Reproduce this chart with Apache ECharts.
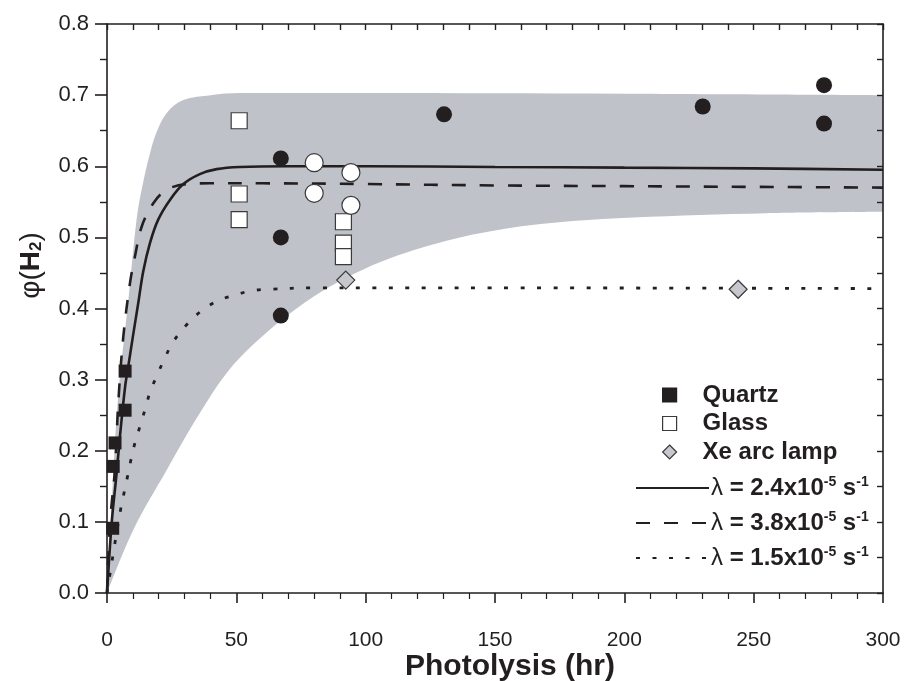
<!DOCTYPE html>
<html><head><meta charset="utf-8">
<script src="https://cdn.jsdelivr.net/npm/echarts@6/dist/echarts.min.js"></script>
<style>html,body{margin:0;padding:0;background:#fff}#c{width:904px;height:681px}</style>
</head><body><div id="c"></div>
<script>
// ---- data ----
const xTickLabels = [0, 50, 100, 150, 200, 250, 300];
const yTickLabels = ['0.0','0.1','0.2','0.3','0.4','0.5','0.6','0.7','0.8'];

const quartzX = [2.2, 2.4, 3.1, 7.0, 7.0];
const quartzY = [0.091, 0.178, 0.211, 0.257, 0.312];

const glassX = [51.1, 51.1, 51.1, 91.4, 91.4, 91.4];
const glassY = [0.664, 0.561, 0.525, 0.522, 0.492, 0.473];

const xeX = [92.3, 244.0];
const xeY = [0.440, 0.427];

const filledCircX = [67.2, 67.2, 67.2, 130.3, 230.3, 277.2, 277.2];
const filledCircY = [0.611, 0.500, 0.390, 0.673, 0.684, 0.714, 0.660];

const openCircX = [80.1, 80.1, 94.3, 94.3];
const openCircY = [0.605, 0.562, 0.591, 0.545];

const fit24X = [0, 1.8, 3.7, 5.0, 7.0, 8.2, 10.2, 12.1, 14.0, 16.6, 19.8, 24.4, 29.5, 35.9, 42.4, 51.4, 70, 100, 150, 200, 250, 300];
const fit24Y = [0, 0.098, 0.168, 0.220, 0.290, 0.318, 0.365, 0.408, 0.452, 0.492, 0.525, 0.553, 0.575, 0.589, 0.596, 0.599, 0.600, 0.600, 0.599, 0.598, 0.597, 0.595];

const fit38X = [0, 1.2, 3.1, 4.4, 6.3, 8.9, 10.8, 13.4, 17.9, 23.1, 30.8, 39.8, 60, 100, 150, 200, 250, 300];
const fit38Y = [0, 0.100, 0.175, 0.270, 0.360, 0.436, 0.473, 0.515, 0.548, 0.567, 0.575, 0.576, 0.576, 0.575, 0.573, 0.572, 0.571, 0.570];

const fit15X = [0, 3.1, 5.3, 6.6, 8.0, 9.3, 10.8, 12.8, 14.7, 16.6, 19.2, 22.2, 25.4, 30.5, 36.6, 42.9, 49.5, 55.9, 62.4, 80, 150, 300];
const fit15Y = [0, 0.071, 0.118, 0.141, 0.165, 0.188, 0.211, 0.235, 0.258, 0.282, 0.305, 0.329, 0.352, 0.376, 0.397, 0.411, 0.419, 0.425, 0.427, 0.429, 0.429, 0.428];

const bandTopX = [0, 2.0, 4.4, 8.2, 11.6, 14.0, 16.6, 19.2, 23.1, 29.5, 40, 51.4, 100, 200, 300];
const bandTopY = [0, 0.140, 0.280, 0.410, 0.530, 0.578, 0.618, 0.648, 0.675, 0.693, 0.700, 0.703, 0.703, 0.702, 0.700];

const bandLowX = [0, 10.2, 23.1, 35.9, 47.5, 60.4, 73.3, 86.2, 99.1, 112, 124.9, 137.7, 150.6, 163.5, 180, 203.4, 255, 300];
const bandLowY = [0, 0.089, 0.173, 0.253, 0.315, 0.362, 0.400, 0.431, 0.455, 0.474, 0.489, 0.501, 0.510, 0.517, 0.523, 0.528, 0.534, 0.536];

const legendScatter = ['Quartz', 'Glass', 'Xe arc lamp'];
const legendLines = ['λ = 2.4x10-5 s-1', 'λ = 3.8x10-5 s-1', 'λ = 1.5x10-5 s-1'];

// ---- build ----
const zip = (xs, ys) => xs.map((x, i) => [x, ys[i]]);
const F = 'Liberation Sans, Arial, Helvetica, sans-serif';
const INK = '#231f20';
const BAND = '#bfc2c9';
const CLEAR = 'rgba(0,0,0,0)';

const lineRich = {
  l: {fontFamily: F, fontSize: 24, color: INK},
  b: {fontFamily: F, fontSize: 24, fontWeight: 'bold', color: INK},
  s: {fontFamily: F, fontSize: 14, fontWeight: 'bold', color: INK, verticalAlign: 'top', padding: [0,0,12,0]}
};
function lineLabel(name) {
  const m = name.match(/^λ = ([\d.]+x10)(-\d) s(-\d)$/);
  return '{l|λ}{b| = ' + m[1] + '}{s|' + m[2] + '}{b| s}{s|' + m[3] + '}';
}

const chart = echarts.init(document.getElementById('c'), null, {renderer: 'canvas'});
const axisLineStyle = {color: INK, width: 1.6};
const SM = 0.35;
chart.setOption({
  animation: false,
  backgroundColor: '#fff',
  grid: {left: 107, right: 21, top: 24, bottom: 88, containLabel: false, outerBoundsMode: 'none'},
  xAxis: [{
    type: 'value', position: 'bottom', min: 0, max: 300, interval: 50, z: 10,
    axisLine: {show: true, onZero: false, lineStyle: axisLineStyle},
    axisTick: {show: true, inside: false, length: 10, lineStyle: {color: INK, width: 1.6}},
    minorTick: {show: true, splitNumber: 5, length: 6, lineStyle: {color: INK, width: 1.2}},
    splitLine: {show: false},
    axisLabel: {show: true, margin: 37, fontSize: 21, fontFamily: F, color: INK,
      formatter: v => String(xTickLabels.find(t => t === v) ?? v)},
    name: 'Photolysis (hr)', nameLocation: 'middle', nameGap: 59, nameMoveOverlap: false,
    nameTextStyle: {fontSize: 30, fontWeight: 'bold', fontFamily: F, color: INK, padding: [0, 0, 0, 30]}
  }, {
    type: 'value', position: 'top', min: 0, max: 300, interval: 10, z: 10,
    axisLine: {show: true, onZero: false, lineStyle: axisLineStyle},
    axisTick: {show: true, inside: true, length: 6, lineStyle: {color: INK, width: 1.4}},
    splitLine: {show: false}, axisLabel: {show: false}
  }],
  yAxis: [{
    type: 'value', position: 'left', min: 0, max: 0.8, interval: 0.1, z: 10,
    axisLine: {show: true, onZero: false, lineStyle: axisLineStyle},
    axisTick: {show: true, inside: false, length: 12, lineStyle: {color: INK, width: 1.6}},
    minorTick: {show: true, splitNumber: 2, length: 7, lineStyle: {color: INK, width: 1.4}},
    splitLine: {show: false},
    axisLabel: {show: true, margin: 18, fontSize: 22, fontFamily: F, color: INK,
      formatter: v => yTickLabels[Math.round(v * 10)]},
    name: '{a|φ(}{b|H}{c|2}{a|)}', nameLocation: 'middle', nameGap: 62, nameRotate: 90, nameMoveOverlap: false,
    nameTextStyle: {
      padding: [0, 0, 0, 86],
      rich: {
        a: {fontSize: 28, fontFamily: F, color: INK},
        b: {fontSize: 28, fontFamily: F, fontWeight: 'bold', color: INK},
        c: {fontSize: 17, fontFamily: F, fontWeight: 'bold', color: INK, verticalAlign: 'bottom', padding: [10, 0, 0, 0]}
      }
    }
  }, {
    type: 'value', position: 'right', min: 0, max: 0.8, interval: 0.05, z: 10,
    axisLine: {show: true, onZero: false, lineStyle: axisLineStyle},
    axisTick: {show: true, inside: true, length: 6, lineStyle: {color: INK, width: 1.4}},
    splitLine: {show: false}, axisLabel: {show: false}
  }],
  legend: [{
    data: legendScatter.map(n => ({name: n})),
    orient: 'vertical', left: 657, top: 378, itemWidth: 14, itemHeight: 14, itemGap: 4.5,
    selectedMode: false, symbolKeepAspect: true,
    itemStyle: {borderWidth: 1.2},
    textStyle: {fontFamily: F, fontSize: 24, fontWeight: 'bold', color: INK, lineHeight: 24, padding: [0, 0, 0, 21]}
  }, {
    data: legendLines.map(n => ({name: n})),
    orient: 'vertical', left: 630, top: 470, itemWidth: 73, itemHeight: 14, itemGap: 9,
    selectedMode: false,
    itemStyle: {color: CLEAR, borderColor: CLEAR, borderWidth: 0},
    formatter: lineLabel,
    textStyle: {fontFamily: F, fontSize: 24, color: INK, lineHeight: 26, rich: lineRich, padding: [0, 0, 0, -3]}
  }],
  series: [
    {name: 'band-upper', type: 'line', data: zip(bandTopX, bandTopY), smooth: SM,
     symbol: 'none', lineStyle: {width: 0, color: BAND}, itemStyle: {color: BAND},
     areaStyle: {color: BAND, opacity: 1, origin: 'start'}, z: 1, silent: true},
    {name: 'band-lower', type: 'line', data: zip(bandLowX, bandLowY), smooth: SM,
     symbol: 'none', lineStyle: {width: 0, color: '#ffffff'}, itemStyle: {color: '#ffffff'},
     areaStyle: {color: '#ffffff', opacity: 1, origin: 'start'}, z: 1, silent: true},
    {name: legendLines[0], type: 'line', data: zip(fit24X, fit24Y), smooth: SM,
     symbol: 'none', itemStyle: {color: INK}, lineStyle: {color: INK, width: 2.6, type: 'solid'}, z: 2},
    {name: legendLines[1], type: 'line', data: zip(fit38X, fit38Y), smooth: SM,
     symbol: 'none', itemStyle: {color: INK}, lineStyle: {color: INK, width: 2.6, type: [14, 14]}, z: 2},
    {name: legendLines[2], type: 'line', data: zip(fit15X, fit15Y), smooth: SM,
     symbol: 'none', itemStyle: {color: INK}, lineStyle: {color: INK, width: 2.8, type: [4, 12.5]}, z: 2},
    {name: 'Quartz', type: 'scatter', data: zip(quartzX, quartzY), symbol: 'rect', symbolSize: 13,
     itemStyle: {color: INK, borderColor: INK, borderWidth: 0, opacity: 1}, z: 4},
    {name: 'Glass', type: 'scatter', data: zip(glassX, glassY), symbol: 'rect', symbolSize: 16,
     itemStyle: {color: '#ffffff', borderColor: '#3a3a3a', borderWidth: 1.2, opacity: 1}, z: 4},
    {name: 'Xe arc lamp', type: 'scatter', data: zip(xeX, xeY), symbol: 'diamond', symbolSize: [18, 18],
     itemStyle: {color: '#c6c8ce', borderColor: '#3a3a3a', borderWidth: 1.2, opacity: 1}, z: 4},
    {name: 'filled circles', type: 'scatter', data: zip(filledCircX, filledCircY), symbol: 'circle', symbolSize: 16,
     itemStyle: {color: INK, opacity: 1}, z: 4},
    {name: 'open circles', type: 'scatter', data: zip(openCircX, openCircY), symbol: 'circle', symbolSize: 18,
     itemStyle: {color: '#ffffff', borderColor: '#3a3a3a', borderWidth: 1.2, opacity: 1}, z: 4}
  ]
});
</script>
</body></html>
